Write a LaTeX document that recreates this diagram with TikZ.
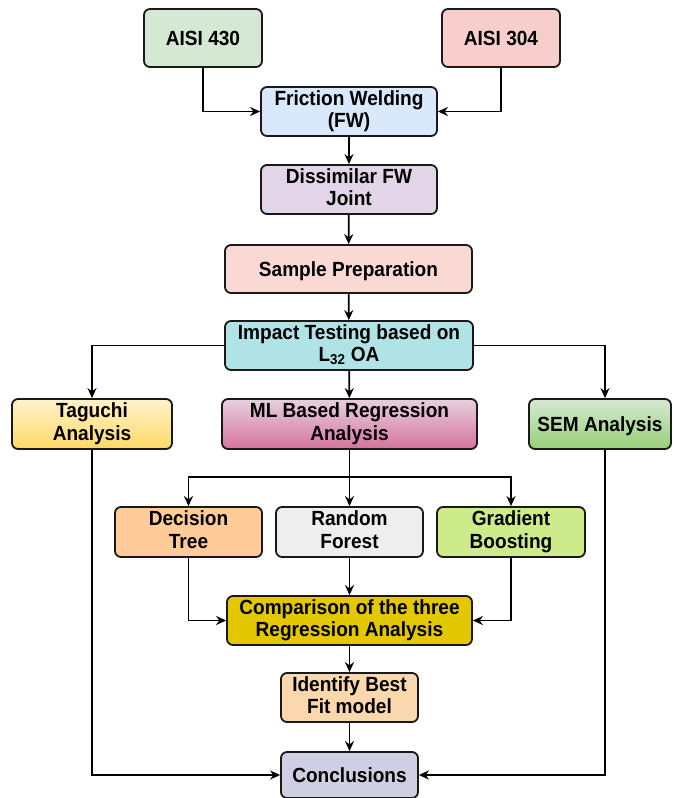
\documentclass[tikz,border=0pt]{standalone}
\usepackage{fontspec}
\setmainfont{Liberation Sans}
\newfontfamily\bxfont[FakeStretch=0.93]{Liberation Sans}
\usetikzlibrary{arrows.meta}

\definecolor{cAisiA}{HTML}{D5E8D4}
\definecolor{cAisiB}{HTML}{F8CECC}
\definecolor{cFw}{HTML}{DAE8FC}
\definecolor{cJoint}{HTML}{E1D5E7}
\definecolor{cPrep}{HTML}{FAD9D5}
\definecolor{cImpact}{HTML}{B0E3E6}
\definecolor{cTagA}{HTML}{FFF2CC}
\definecolor{cTagB}{HTML}{FFD966}
\definecolor{cMlA}{HTML}{E6D0DE}
\definecolor{cMlB}{HTML}{D5739D}
\definecolor{cSemA}{HTML}{D5E8D4}
\definecolor{cSemB}{HTML}{97D077}
\definecolor{cTree}{HTML}{FFCC99}
\definecolor{cForest}{HTML}{EEEEEE}
\definecolor{cBoost}{HTML}{CDEB8B}
\definecolor{cComp}{HTML}{E3C800}
\definecolor{cBest}{HTML}{FAD7AC}
\definecolor{cConcl}{HTML}{D0CEE2}

\newcommand\bxstrut{\rule[-5pt]{0pt}{24.7pt}}

\begin{document}
\begin{tikzpicture}[
                x=1pt, y=-1pt,
                bx/.style={draw=black!90, line width=1.8pt, rounded corners=6pt, align=center,
                           inner sep=0pt, font=\bxfont\bfseries\fontsize{20.5}{22.5}\selectfont,
                           execute at begin node=\bxstrut, execute at end node=\bxstrut},
                ar/.style={-{Stealth[length=10pt,width=9pt]}, line width=1.7pt}
            ]
            \useasboundingbox (0,0) rectangle (673,798);
            \node[bx, fill=cAisiA, minimum width=118pt, minimum height=58pt] (aisiA) at (203,38) {AISI 430};
            \node[bx, fill=cAisiB, minimum width=118pt, minimum height=58pt] (aisiB) at (501,38) {AISI 304};
            \node[bx, fill=cFw, minimum width=176pt, minimum height=49pt] (fw) at (349,111.5) {Friction Welding\\(FW)};
            \node[bx, fill=cJoint, minimum width=176pt, minimum height=49pt] (joint) at (349,189.5) {Dissimilar FW\\Joint};
            \node[bx, fill=cPrep, minimum width=247pt, minimum height=48pt] (prep) at (348.5,269) {Sample Preparation};
            \node[bx, fill=cImpact, minimum width=248pt, minimum height=49pt] (impact) at (349,345.5) {Impact Testing based on\\L\textsubscript{32} OA};
            \node[bx, top color=cTagA, bottom color=cTagB, minimum width=160pt, minimum height=50pt] (tag) at (92,424) {Taguchi\\Analysis};
            \node[bx, top color=cMlA, bottom color=cMlB, minimum width=255pt, minimum height=50pt] (ml) at (349.5,424) {ML Based Regression\\Analysis};
            \node[bx, top color=cSemA, bottom color=cSemB, minimum width=142pt, minimum height=50pt] (sem) at (600,424) {SEM Analysis};
            \node[bx, fill=cTree, minimum width=147pt, minimum height=50pt] (tree) at (188.5,532) {Decision\\Tree};
            \node[bx, fill=cForest, minimum width=147pt, minimum height=50pt] (forest) at (349.5,532) {Random\\Forest};
            \node[bx, fill=cBoost, minimum width=148pt, minimum height=50pt] (boost) at (511,532) {Gradient\\Boosting};
            \node[bx, fill=cComp, minimum width=245pt, minimum height=49pt] (comp) at (349.5,620.5) {Comparison of the three\\Regression Analysis};
            \node[bx, fill=cBest, minimum width=137pt, minimum height=49pt] (best) at (349.5,697.5) {Identify Best\\Fit model};
            \node[bx, fill=cConcl, minimum width=137pt, minimum height=46pt] (concl) at (349.5,775) {Conclusions};
            \coordinate (split) at (349.5,477);
            \draw[ar] (aisiA) |- (fw);
            \draw[ar] (aisiB) |- (fw);
            \draw[ar] (fw) -- (joint);
            \draw[ar] (joint) -- (prep);
            \draw[ar] (prep) -- (impact);
            \draw[ar] (impact) -- (ml);
            \draw[ar] (impact) -| (tag);
            \draw[ar] (impact) -| ([xshift=5pt]sem.north);
            \draw[ar] (ml) -- (forest);
            \draw[ar] (split) -| (tree);
            \draw[ar] (split) -| (boost);
            \draw[ar] (tree) |- (comp);
            \draw[ar] (forest) -- (comp);
            \draw[ar] (boost) |- (comp);
            \draw[ar] (comp) -- (best);
            \draw[ar] (best) -- (concl);
            \draw[ar] (tag) |- (concl);
            \draw[ar] ([xshift=5pt]sem.south) |- (concl);
            \end{tikzpicture}
\end{document}
